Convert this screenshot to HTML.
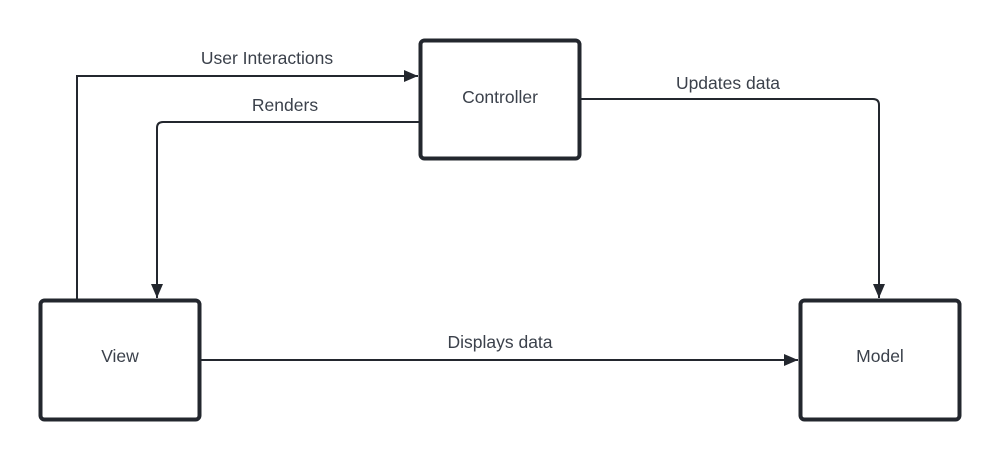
<!DOCTYPE html>
<html><head><meta charset="utf-8"><style>
html,body{margin:0;padding:0;background:#fff;}
svg{display:block;}
text{font-family:"Liberation Sans",sans-serif;font-size:17.5px;fill:#3b414b;}
</style></head><body>
<svg width="1000" height="460" viewBox="0 0 1000 460" xmlns="http://www.w3.org/2000/svg">
<defs>
<marker id="a" markerWidth="14" markerHeight="12" refX="14" refY="6" orient="auto" markerUnits="userSpaceOnUse">
<path d="M0,0 L14,6 L0,12 z" fill="#23272e"/>
</marker>
</defs>
<g fill="none" stroke="#23272e" stroke-width="2">
<path d="M77,299 V76 H418" marker-end="url(#a)"/>
<path d="M419,122 H163 Q157,122 157,128 V298" marker-end="url(#a)"/>
<path d="M581,99 H873 Q879,99 879,105 V298" marker-end="url(#a)"/>
<path d="M201,360 H798" marker-end="url(#a)"/>
</g>
<g fill="#fff" stroke="#23272e" stroke-width="4">
<rect x="420.5" y="40.5" width="159" height="118" rx="4"/>
<rect x="40.5" y="300.5" width="159" height="119" rx="4"/>
<rect x="800.5" y="300.5" width="159" height="119" rx="4"/>
</g>
<text x="500" y="103" text-anchor="middle">Controller</text>
<text x="120" y="362" text-anchor="middle">View</text>
<text x="880" y="362" text-anchor="middle">Model</text>
<text x="267" y="64" text-anchor="middle">User Interactions</text>
<text x="285" y="111" text-anchor="middle">Renders</text>
<text x="728" y="89" text-anchor="middle">Updates data</text>
<text x="500" y="348" text-anchor="middle">Displays data</text>
</svg>
</body></html>
